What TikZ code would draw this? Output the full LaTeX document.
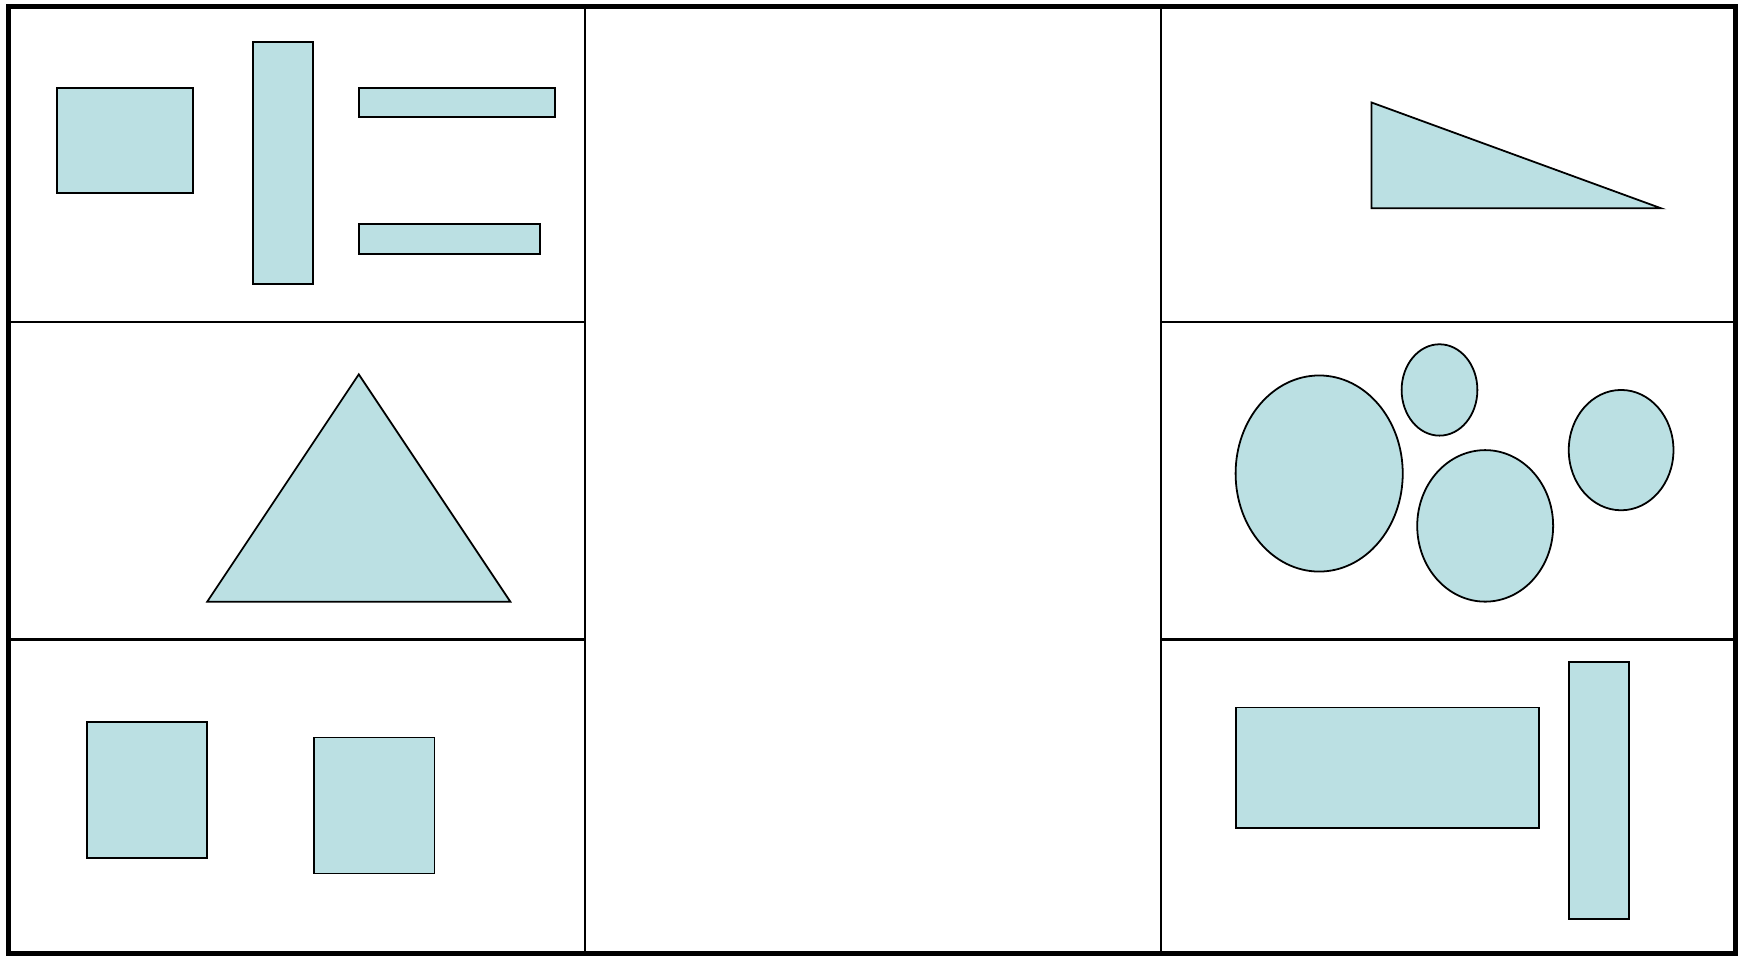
\documentclass[tikz,border=0pt]{standalone}
\definecolor{shapefill}{RGB}{187,224,227}
\tikzset{
  figshape/.style={fill=shapefill, draw=black, line width=1.6pt, line join=miter},
  divider/.style={draw=black, line width=2.1pt},
  outerframe/.style={draw=black, line width=4.6pt}
}
\begin{document}
\begin{tikzpicture}[x=1pt,y=-1pt]
\useasboundingbox (0,0) rectangle (1568,858);
\fill[white] (0,0) rectangle (1568,858);
% dividers
\draw[divider] (525,6) -- (525,856);
\draw[divider] (1042,6) -- (1042,856);
\draw[divider] (8,289) -- (525,289);
\draw[divider] (8,574) -- (525,574);
\draw[divider] (1042,289) -- (1558,289);
\draw[divider] (1042,574) -- (1558,574);
% left top
\draw[figshape] (51,79) rectangle (173,173);
\draw[figshape] (227,38) rectangle (281,255);
\draw[figshape] (322,79) rectangle (498,105);
\draw[figshape] (322,201) rectangle (485,228);
% left middle
\draw[figshape] (186,540) -- (322,336) -- (458,540) -- cycle;
% left bottom
\draw[figshape] (78,648) rectangle (186,770);
\draw[figshape] (282,662) rectangle (390,784);
% right top
\draw[figshape] (1231,92) -- (1491,187) -- (1231,187) -- cycle;
% right middle
\draw[figshape] (1184,425) ellipse [x radius=75, y radius=88];
\draw[figshape] (1292,350) ellipse [x radius=34, y radius=41];
\draw[figshape] (1333,472) ellipse [x radius=61, y radius=68];
\draw[figshape] (1455,404) ellipse [x radius=47, y radius=54];
% right bottom
\draw[figshape] (1109,635) rectangle (1381,743);
\draw[figshape] (1408,594) rectangle (1462,825);
% outer frame
\draw[outerframe] (8,6) rectangle (1558,856);
\end{tikzpicture}
\end{document}
